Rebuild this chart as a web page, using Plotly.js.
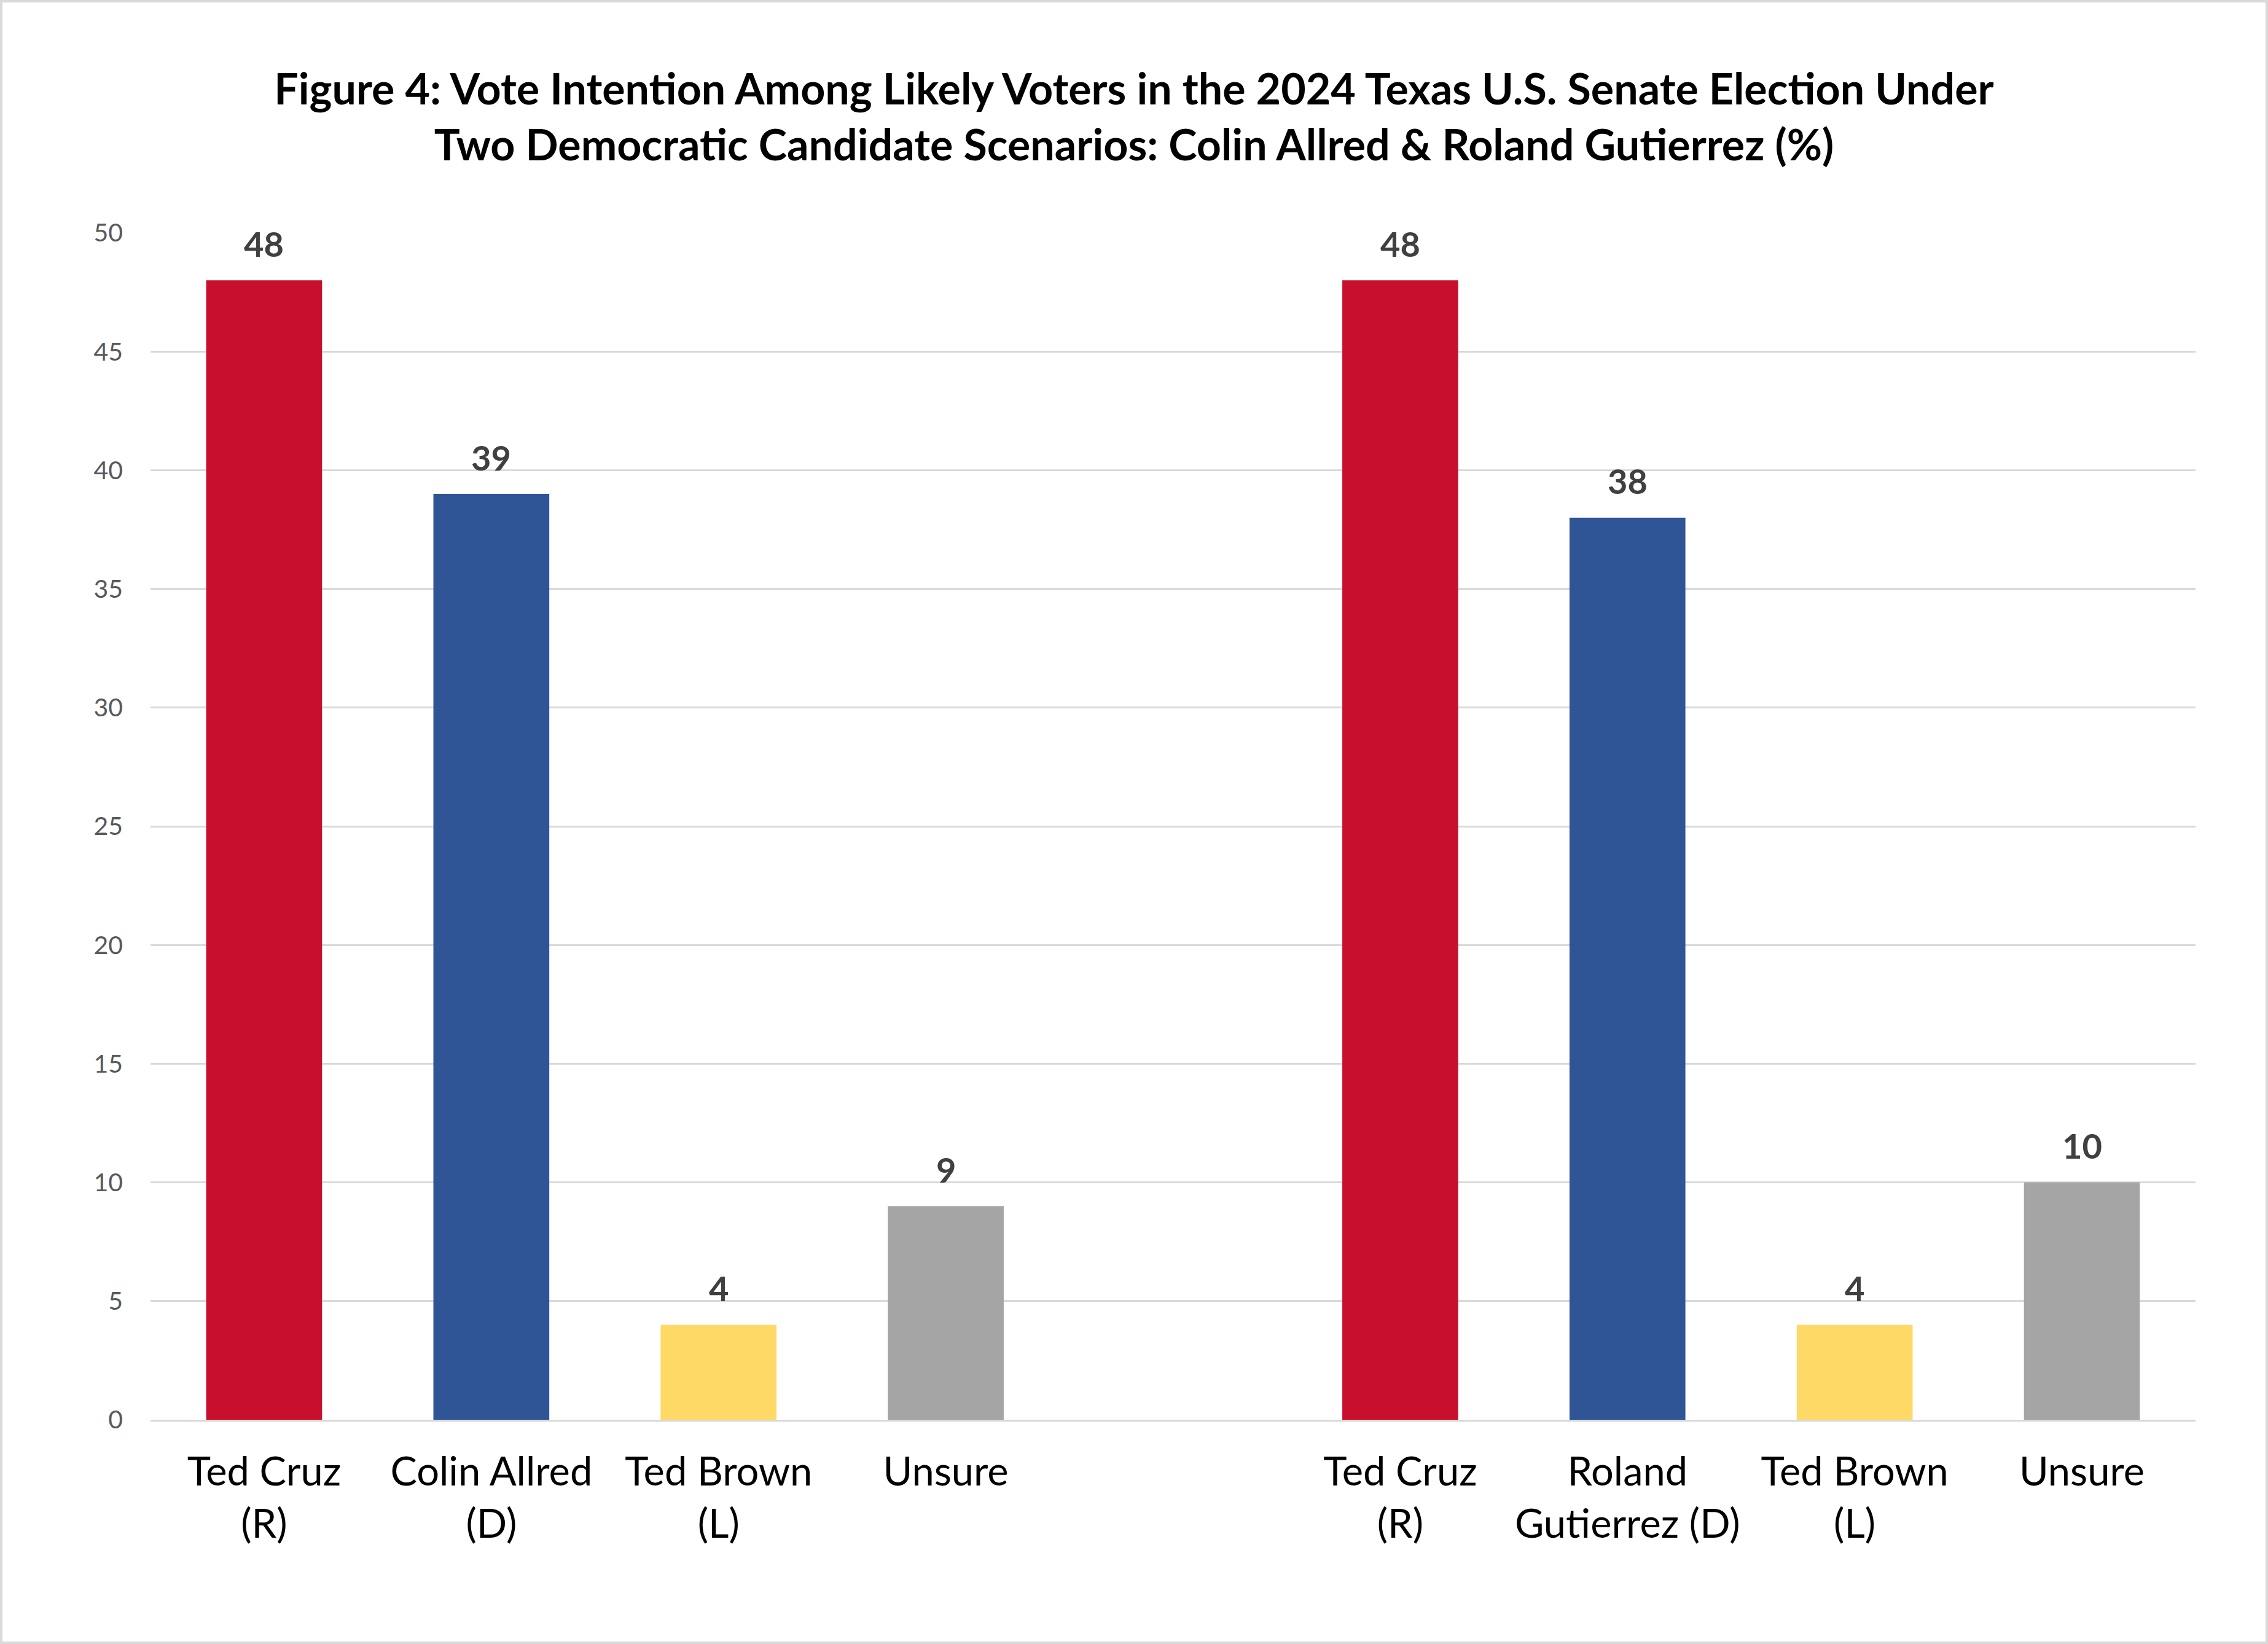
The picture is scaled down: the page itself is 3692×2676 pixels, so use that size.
<!DOCTYPE html>
<html>
<head>
<meta charset="utf-8">
<script src="https://cdn.plot.ly/plotly-3.0.1.min.js"></script>
<style>
  html, body { margin: 0; padding: 0; background: #ffffff; }
  #wrap { position: relative; width: 3692px; height: 2676px; }
  #chart { position: absolute; left: 0; top: 0; width: 3692px; height: 2676px; }
  #frame { position: absolute; left: 0; top: 0; width: 3692px; height: 2676px;
           box-sizing: border-box; border: 4px solid #D9D9D9; pointer-events: none; }
</style>
</head>
<body>
<div id="wrap">
  <div id="chart"></div>
  <div id="frame"></div>
</div>
<script>
// ---- data ----
const positions = [0, 1, 2, 3, 5, 6, 7, 8];
const categoryLabels = [
  "Ted Cruz<br>(R)", "Colin Allred<br>(D)", "Ted Brown<br>(L)", "Unsure",
  "Ted Cruz<br>(R)", "Roland<br>Gutierrez (D)", "Ted Brown<br>(L)", "Unsure"
];
const voteShare = [48, 39, 4, 9, 48, 38, 4, 10];
const yTicks = [0, 5, 10, 15, 20, 25, 30, 35, 40, 45, 50];

// ---- styles ----
const barColors = ["#C8102E", "#2F5597", "#FFD966", "#A5A5A5",
                   "#C8102E", "#2F5597", "#FFD966", "#A5A5A5"];
const FONT = "Lato, 'Open Sans', sans-serif";

const trace = {
  type: "bar",
  x: positions,
  y: voteShare,
  width: 0.51,
  marker: { color: barColors, line: { width: 0 } },
  hoverinfo: "none"
};

const annotations = positions.map((p, i) => ({
  x: p, y: voteShare[i], xref: "x", yref: "y",
  text: "<b>" + voteShare[i] + "</b>",
  showarrow: false, yanchor: "middle", xanchor: "center", yshift: 60,
  font: { family: FONT, size: 56, color: "#404040" }
}));

const layout = {
  width: 3692, height: 2676,
  paper_bgcolor: "#ffffff", plot_bgcolor: "#ffffff",
  margin: { l: 245, r: 118, t: 379, b: 365 },
  showlegend: false,
  title: {
    text: "<b>Figure 4: Vote Intention Among Likely Voters in the 2024 Texas U.S. Senate Election Under<br>Two Democratic Candidate Scenarios: Colin Allred & Roland Gutierrez (%)</b>",
    font: { family: FONT, size: 70, color: "#000000" },
    x: 0.5, xanchor: "center", xref: "container",
    y: 1 - 170 / 2676, yanchor: "middle", yref: "container"
  },
  xaxis: {
    range: [-0.5, 8.5],
    tickmode: "array", tickvals: positions, ticktext: categoryLabels,
    showgrid: false, zeroline: false,
    showline: true, linecolor: "#D9D9D9", linewidth: 3,
    ticks: "", ticklabelstandoff: 26,
    tickfont: { family: FONT, size: 65, color: "#000000" },
    fixedrange: true
  },
  yaxis: {
    range: [0, 50],
    tickmode: "array", tickvals: yTicks,
    showgrid: true, gridcolor: "#D9D9D9", gridwidth: 3,
    zeroline: false, showline: false,
    ticks: "", ticklabelstandoff: 44,
    tickfont: { family: FONT, size: 41, color: "#595959" },
    fixedrange: true
  },
  annotations: annotations
};

Plotly.newPlot("chart", [trace], layout, { displayModeBar: false, staticPlot: true });
</script>
</body>
</html>
